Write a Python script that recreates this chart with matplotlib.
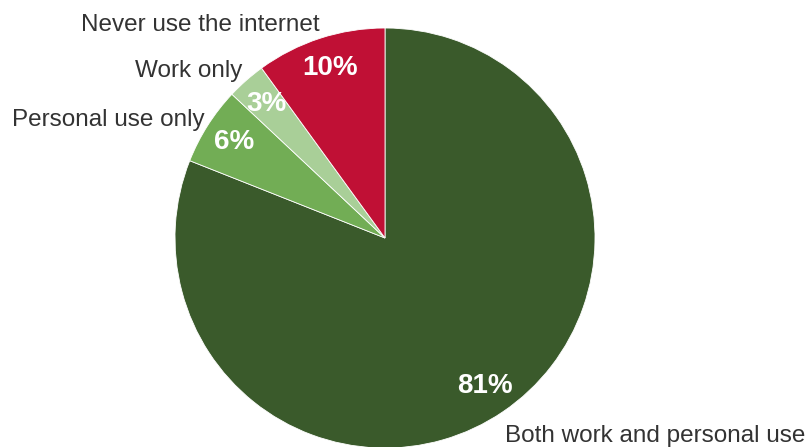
import numpy as np
from matplotlib import pyplot as plt

plt.rcParams['font.family'] = ['Liberation Sans', 'DejaVu Sans']

categories = ["Both work and personal use", "Personal use only", "Work only", "Never use the internet"]
shares = [81, 6, 3, 10]
colors = ["#3a5a2b", "#72ad55", "#a9cf98", "#c01035"]

# label anchor spots (pie units, radius = 1), text only
label_pos = [(0.571, -0.971), (-0.857, 0.533), (-0.681, 0.767), (-0.31, 0.986)]
label_ha = ["left", "right", "right", "right"]

fig = plt.figure(figsize=(8.11, 4.47), dpi=100)
ax = fig.add_axes([0, 0, 1, 1])

wedges, texts, autotexts = ax.pie(
    shares, labels=categories, colors=colors, startangle=90, counterclock=False,
    autopct="%d%%", pctdistance=0.85, radius=1.0,
    wedgeprops=dict(edgecolor="white", linewidth=0.6),
    textprops=dict(fontsize=17.5, color="#333333"))

for t, pos, ha in zip(texts, label_pos, label_ha):
    t.set_position(pos)
    t.set_ha(ha)
    t.set_va("baseline")

for t in autotexts:
    t.set_color("white")
    t.set_fontsize(20)
    t.set_fontweight("bold")

ax.set_xlim(-385 / 210, (811 - 385) / 210)
ax.set_ylim((238 - 447) / 210, 238 / 210)
ax.set_aspect("auto")
ax.axis("off")

fig.savefig("out.png", dpi=100)
